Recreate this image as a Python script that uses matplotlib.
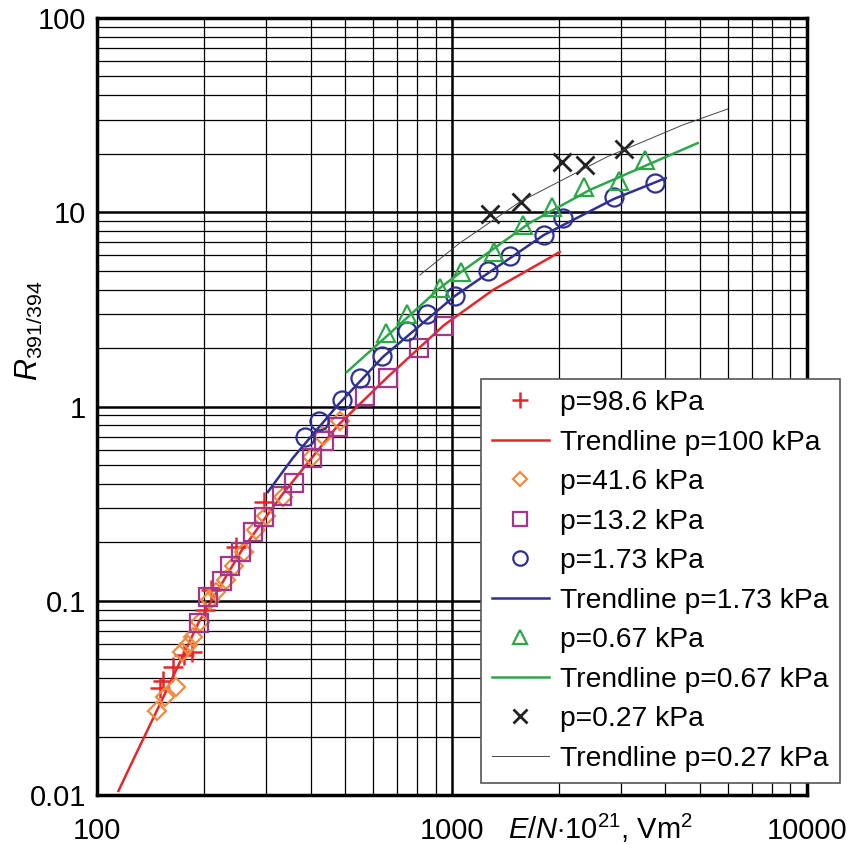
import matplotlib
matplotlib.use("Agg")
import matplotlib.pyplot as plt
from matplotlib.ticker import LogLocator, NullFormatter, FixedLocator, FixedFormatter

plt.rcParams["font.family"] = ["Liberation Sans", "DejaVu Sans"]
plt.rcParams["mathtext.fontset"] = "custom"
plt.rcParams["mathtext.rm"] = "Liberation Sans"
plt.rcParams["mathtext.it"] = "Liberation Sans:italic"

# p = 98.6 kPa (+)
x_986 = [150.4, 153.4, 163.7, 175.8, 185.2, 201.5, 209.5, 246.4, 295.4]
y_986 = [0.0355, 0.0386, 0.0456, 0.0526, 0.0545, 0.0897, 0.1136, 0.189, 0.322]

# trendline p = 100 kPa
x_tr100 = [115, 130, 148, 194, 255, 332, 478, 660, 950, 1307, 2015]
y_tr100 = [0.0105, 0.0168, 0.0275, 0.078, 0.18, 0.35, 0.80, 1.42, 2.62, 3.98, 6.24]

# p = 41.6 kPa (diamond)
x_416 = [147.6, 155.5, 167.0, 173.5, 180.5, 186.4, 195.0, 208.1, 216.4, 230.9,
         243.2, 259.5, 280.5, 299.3, 334.2, 403.4, 433.1, 483.7]
y_416 = [0.0271, 0.0319, 0.036, 0.0545, 0.0592, 0.0651, 0.0777, 0.1009, 0.1109, 0.128,
         0.151, 0.178, 0.231, 0.273, 0.342, 0.55, 0.705, 0.842]

# p = 13.2 kPa (square)
x_132 = [193.8, 205.4, 224.9, 237.0, 254.5, 275.1, 295.4, 332.0, 358.8, 403.4,
         435.9, 477.5, 568.7, 660.2, 807.3, 949.4]
y_132 = [0.0768, 0.1045, 0.1264, 0.151, 0.1782, 0.226, 0.270, 0.346, 0.404, 0.543,
         0.664, 0.785, 1.133, 1.40, 2.0, 2.60]

# p = 1.73 kPa (circle)
x_173 = [385.5, 422.1, 489.9, 550.6, 635.0, 746.8, 850.4, 1019.7, 1263, 1457,
         1816, 2054, 2860, 3731]
y_173 = [0.697, 0.842, 1.08, 1.40, 1.82, 2.45, 2.99, 3.71, 4.98, 5.96,
         7.63, 9.34, 11.98, 14.14]

# trendline p = 1.73 kPa
x_tr173 = [303.2, 356.5, 477.5, 639.2, 1019.7, 1816, 2860, 4008]
y_tr173 = [0.363, 0.543, 1.018, 1.798, 3.706, 7.63, 11.70, 14.99]

# p = 0.67 kPa (triangle)
x_067 = [651.7, 746.8, 925.0, 1060, 1313, 1585, 1913, 2354, 2954, 3497]
y_067 = [2.39, 2.99, 4.07, 4.93, 6.24, 8.60, 10.64, 13.49, 14.48, 18.58]

# trendline p = 0.67 kPa
x_tr067 = [506.0, 651.7, 925.0, 1053, 1658, 2447, 4932]
y_tr067 = [1.504, 2.279, 4.07, 4.87, 8.81, 13.02, 22.7]

# p = 0.27 kPa (x)
x_027 = [1279, 1565, 2041, 2369, 3051]
y_027 = [9.79, 11.29, 18.14, 17.5, 21.16]

# trendline p = 0.27 kPa
x_tr027 = [812.6, 1053, 1554, 2733, 4475, 5991]
y_tr027 = [4.75, 6.94, 11.29, 19.25, 28.13, 34.0]

red = "#e8262a"
orange = "#f08a3c"
purple = "#a4368c"
blue = "#2e3192"
green = "#2ca84a"

fig = plt.figure(figsize=(8.5, 8.44), dpi=100)
ax = fig.add_axes([0.114, 0.058, 0.835, 0.9207])
ax.set_xscale("log")
ax.set_yscale("log")
ax.set_xlim(100, 10000)
ax.set_ylim(0.01, 100)

ax.grid(True, which="major", color="black", lw=1.8)
ax.grid(True, which="minor", color="black", lw=0.9)
ax.set_axisbelow(True)
ax.xaxis.set_minor_locator(LogLocator(base=10, subs=range(2, 10)))
ax.yaxis.set_minor_locator(LogLocator(base=10, subs=range(2, 10)))
ax.xaxis.set_minor_formatter(NullFormatter())
ax.yaxis.set_minor_formatter(NullFormatter())
ax.xaxis.set_major_locator(FixedLocator([100, 1000, 10000]))
ax.xaxis.set_major_formatter(FixedFormatter(["100", "1000", "10000"]))
ax.yaxis.set_major_locator(FixedLocator([0.01, 0.1, 1, 10, 100]))
ax.yaxis.set_major_formatter(FixedFormatter(["0.01", "0.1", "1", "10", "100"]))
ax.tick_params(which="both", length=0, labelsize=21)
ax.tick_params(axis="x", pad=16)
ax.tick_params(axis="y", pad=8)
for s in ax.spines.values():
    s.set_linewidth(2.5)

mk = dict(ls="none", mfc="none", mew=1.6)
h1, = ax.plot(x_986, y_986, marker="+", color=red, ms=14, mew=1.8, ls="none", label="p=98.6 kPa")
h2, = ax.plot(x_tr100, y_tr100, color=red, lw=1.8, label="Trendline p=100 kPa")
h3, = ax.plot(x_416, y_416, marker="D", color=orange, ms=9, label="p=41.6 kPa", **mk)
h4, = ax.plot(x_132, y_132, marker="s", color=purple, ms=13, label="p=13.2 kPa", **mk)
h5, = ax.plot(x_173, y_173, marker="o", color=blue, ms=13, label="p=1.73 kPa", **mk)
h6, = ax.plot(x_tr173, y_tr173, color=blue, lw=1.8, label="Trendline p=1.73 kPa")
h7, = ax.plot(x_067, y_067, marker="^", color=green, ms=13, label="p=0.67 kPa", **mk)
h8, = ax.plot(x_tr067, y_tr067, color=green, lw=1.8, label="Trendline p=0.67 kPa")
h9, = ax.plot(x_027, y_027, marker="x", color="#222222", ms=13, mew=2.0, ls="none", label="p=0.27 kPa")
h10, = ax.plot(x_tr027, y_tr027, color="#444444", lw=0.7, label="Trendline p=0.27 kPa")

leg = ax.legend(handles=[h1, h2, h3, h4, h5, h6, h7, h8, h9, h10],
                loc="lower right", bbox_to_anchor=(1.0465, 0.0154), borderaxespad=0,
                fontsize=20.3, frameon=True, fancybox=False, framealpha=1,
                edgecolor="#555555", handlelength=2.0, handletextpad=0.4,
                labelspacing=0.48, borderpad=0.4, markerscale=0.8)
leg.get_frame().set_linewidth(1.2)
leg.set_zorder(5)

ax.text(-0.095, 0.598, r"$R_{\mathrm{391/394}}$", transform=ax.transAxes,
        fontsize=22, rotation=90, ha="center", va="center")
ax.text(0.71, -0.043, r"$E/N$$\cdot$10$^{21}$, Vm$^2$", transform=ax.transAxes,
        fontsize=21, ha="center", va="center")

fig.savefig("out.png", dpi=100)
